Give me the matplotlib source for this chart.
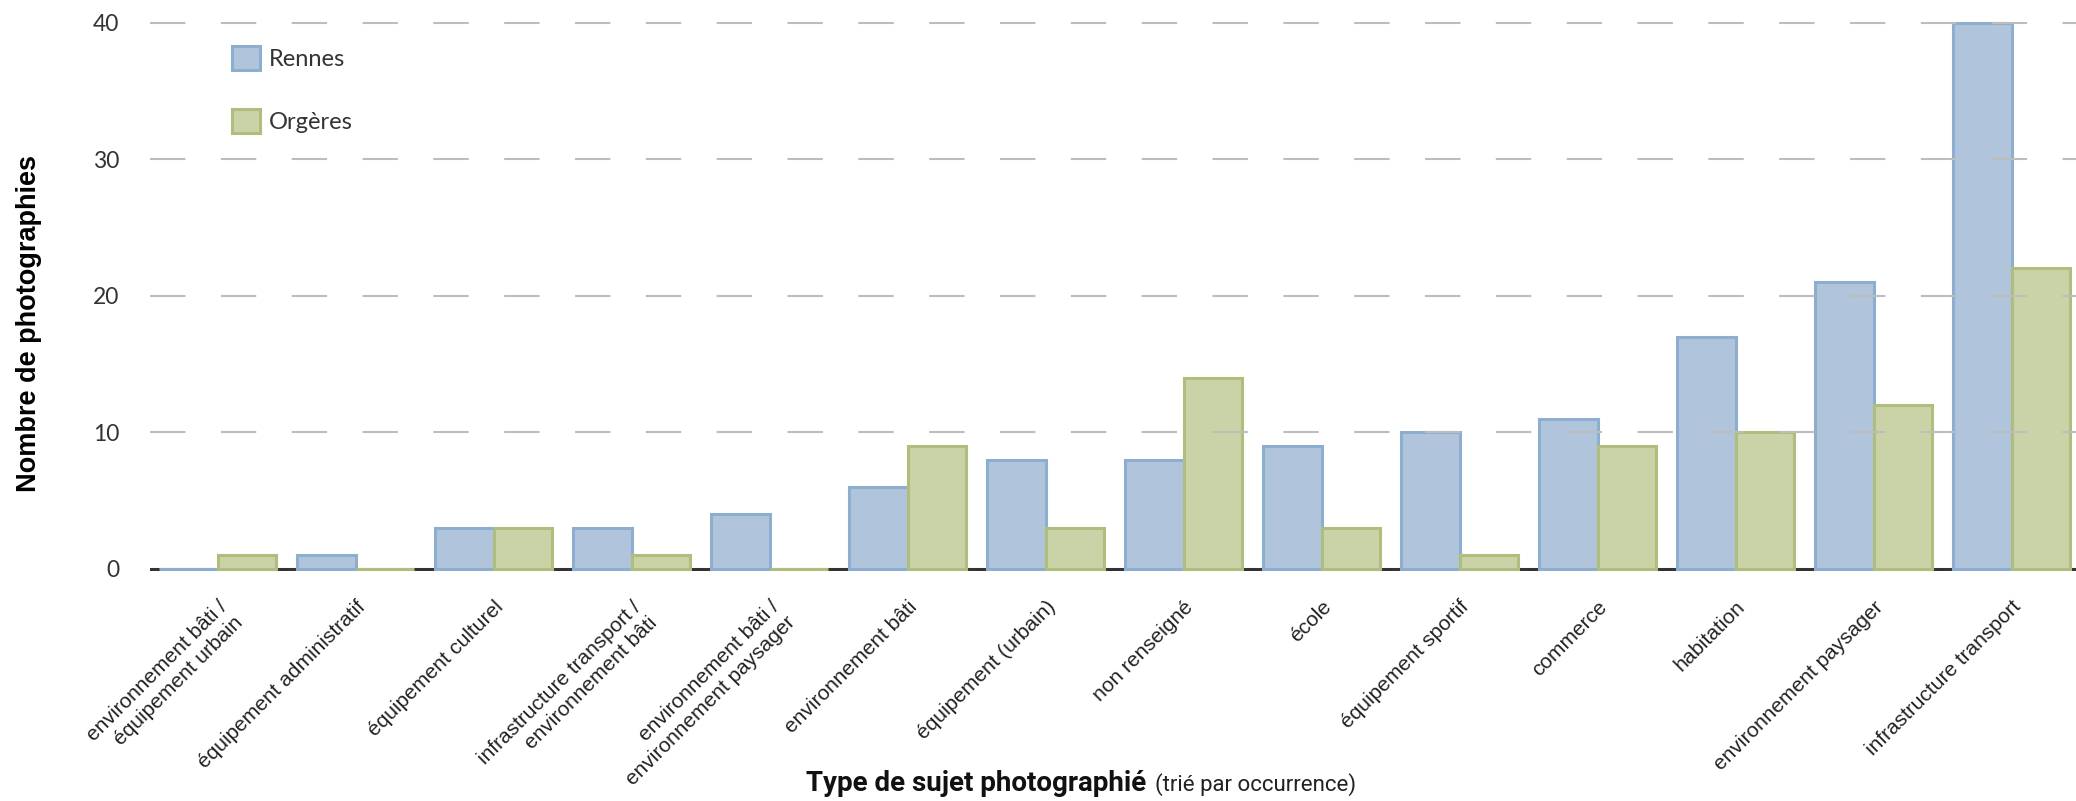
import numpy as np
from matplotlib import pyplot as plt
from matplotlib.patches import Patch

categories = ['environnement bâti /\néquipement urbain', 'équipement administratif', 'équipement culturel',
              'infrastructure transport /\nenvironnement bâti', 'environnement bâti /\nenvironnement paysager',
              'environnement bâti', 'équipement (urbain)', 'non renseigné', 'école', 'équipement sportif',
              'commerce', 'habitation', 'environnement paysager', 'infrastructure transport']
rennes = [0, 1, 3, 3, 4, 6, 8, 8, 9, 10, 11, 17, 21, 40]
orgeres = [1, 0, 3, 1, 0, 9, 3, 14, 3, 1, 9, 10, 12, 22]
yticks = [0, 10, 20, 30, 40]

blue_fill, blue_edge = '#b0c5db', '#8eaecf'
green_fill, green_edge = '#cad3a8', '#afbd7d'

fig = plt.figure(figsize=(20.76, 8.01), dpi=100)
ax = fig.add_axes([0.0723, 0.2871, 1 - 0.0723, 0.9744 - 0.2871])

x = np.arange(len(categories))
w = 0.425
ax.bar(x - w / 2, rennes, width=w, color=blue_fill, edgecolor=blue_edge, linewidth=2.2, zorder=2, clip_on=False)
ax.bar(x + w / 2, orgeres, width=w, color=green_fill, edgecolor=green_edge, linewidth=2.2, zorder=2, clip_on=False)

# dashed grid drawn over the bars, solid baseline at zero
for v in yticks[1:]:
    ln = ax.axhline(v, color='#bdbdbd', linewidth=1.5, zorder=3)
    ln.set_dashes((17, 17))
ax.axhline(0, color='#333333', linewidth=2.2, zorder=1)

ax.set_xlim(-0.489, 13.467)
ax.set_ylim(-0.15, 40.15)
for s in ax.spines.values():
    s.set_visible(False)

ax.set_yticks(yticks)
ax.set_yticklabels([str(v) for v in yticks], fontfamily='Lato', fontsize=16.5, color='#333333')
ax.tick_params(axis='y', length=0, pad=22)
ax.set_xticks(x)
ax.set_xticklabels(categories, rotation=45, ha='right', va='top', rotation_mode='anchor',
                   fontfamily='Liberation Sans', fontsize=15, color='#222222')
ax.tick_params(axis='x', length=0, pad=19)

ax.set_ylabel('Nombre de photographies', fontfamily='Liberation Sans', fontweight='bold', fontsize=19.5)
ax.yaxis.set_label_coords(-0.056, 0.45)

fig.text(0.5523, 0.013, 'Type de sujet photographié', fontfamily='Roboto', fontweight='bold', fontsize=20,
         ha='right', va='baseline', color='#111111')
fig.text(0.5563, 0.013, '(trié par occurrence)', fontfamily='Roboto', fontweight='normal', fontsize=16,
         ha='left', va='baseline', color='#222222')

handles = [Patch(facecolor=blue_fill, edgecolor=blue_edge, linewidth=2.2, label='Rennes'),
           Patch(facecolor=green_fill, edgecolor=green_edge, linewidth=2.2, label='Orgères')]
leg = fig.legend(handles=handles, loc='upper left', bbox_to_anchor=(232 / 2076, 1 - 46 / 801), frameon=False,
                 prop={'family': 'Lato', 'size': 17}, handlelength=1.2, handleheight=1.2, handletextpad=0.35,
                 labelspacing=1.65, borderpad=0, borderaxespad=0)
for t in leg.get_texts():
    t.set_color('#333333')

fig.savefig('out.png', dpi=100)
